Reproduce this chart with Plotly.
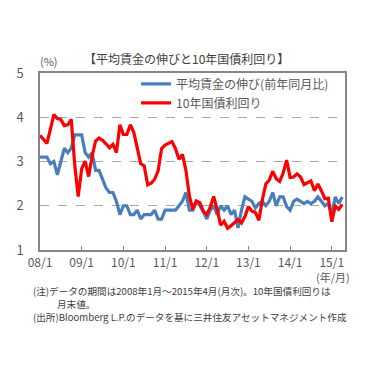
import plotly.graph_objects as go

months = list(range(88))  # 2008/1 .. 2015/4
wage_growth = [
    3.1, 3.1, 3.1, 2.95, 3.0, 2.7, 3.0, 3.3, 3.2, 3.3, 3.6, 3.6,
    3.6, 3.2, 3.1, 3.2, 2.8, 2.8, 2.6, 2.4, 2.3, 2.3, 2.1, 1.8,
    2.0, 2.0, 1.8, 1.8, 1.9, 1.7, 1.8, 1.8, 1.8, 1.9, 1.7, 1.7,
    1.9, 1.9, 1.9, 1.9, 2.0, 2.1, 2.3, 1.9, 1.9, 2.1, 2.0, 1.87,
    1.7, 1.9, 2.0, 1.8, 2.0, 1.9, 2.0, 1.8, 1.9, 1.5, 1.9, 2.2,
    2.15, 2.1, 1.95, 2.05, 2.1, 2.0, 2.1, 2.3, 2.0, 2.2, 2.2, 1.98,
    1.9, 2.1, 2.15, 2.1, 2.05, 2.1, 2.05, 2.1, 2.2, 2.1, 2.0, 2.05,
    1.8, 2.2, 2.05, 2.2,
]
bond_yield = [
    3.59, 3.51, 3.41, 3.73, 4.06, 3.97, 3.95, 3.81, 3.83, 3.95, 2.92, 2.21,
    2.84, 3.01, 2.66, 3.12, 3.46, 3.53, 3.48, 3.40, 3.31, 3.39, 3.20, 3.83,
    3.61, 3.61, 3.83, 3.66, 3.29, 2.95, 2.90, 2.47, 2.51, 2.60, 2.79, 3.29,
    3.37, 3.42, 3.45, 3.29, 3.05, 3.16, 2.80, 2.22, 1.92, 2.11, 2.07, 1.88,
    1.80, 1.97, 2.21, 1.91, 1.56, 1.65, 1.49, 1.55, 1.63, 1.69, 1.61, 1.76,
    1.98, 1.88, 1.85, 1.67, 2.13, 2.49, 2.58, 2.78, 2.61, 2.55, 2.74, 3.03,
    2.64, 2.65, 2.72, 2.65, 2.48, 2.53, 2.56, 2.34, 2.49, 2.34, 2.16, 2.17,
    1.64, 1.99, 1.92, 2.03,
]
tick_vals = [0, 12, 24, 36, 48, 60, 72, 84]
tick_text = ["08/1", "09/1", "10/1", "11/1", "12/1", "13/1", "14/1", "15/1"]
y_ticks = [1, 2, 3, 4, 5]

FONT = "Noto Sans CJK JP"
GRAY = "#595959"
DARK = "#404040"

fig = go.Figure()
fig.add_trace(go.Scatter(x=months, y=wage_growth, mode="lines",
                         name="平均賃金の伸び(前年同月比)",
                         line=dict(color="#4A7EBB", width=3.2)))
fig.add_trace(go.Scatter(x=months, y=bond_yield, mode="lines",
                         name="10年国債利回り",
                         line=dict(color="#FF0000", width=3.2)))

fig.update_layout(
    width=386, height=374,
    margin=dict(l=40, r=41, t=73, b=124, autoexpand=False),
    paper_bgcolor="white", plot_bgcolor="white",
    font=dict(family=FONT, color=GRAY, size=12),
    showlegend=True,
    legend=dict(x=0.315, y=1.02, xanchor="left", yanchor="top",
                bgcolor="rgba(0,0,0,0)", borderwidth=0,
                font=dict(size=12, color=GRAY, family=FONT),
                itemwidth=30, tracegroupgap=0),
    xaxis=dict(range=[0, 87.8], tickmode="array", tickvals=tick_vals,
               ticktext=tick_text, ticks="inside", ticklen=4, tickcolor="#868686",
               showgrid=False, zeroline=False, showline=True, linecolor="#868686",
               linewidth=1.5, mirror=True, tickfont=dict(size=12, color=GRAY),
               ticklabelstandoff=1, automargin=False),
    yaxis=dict(range=[1, 5], tickvals=y_ticks, showgrid=True,
               gridcolor="#A6A6A6", griddash="dash", gridwidth=1,
               zeroline=False, showline=True, linecolor="#868686", linewidth=1.5,
               mirror=True, ticks="", tickfont=dict(size=13, color=GRAY),
               ticklabelstandoff=12, automargin=False),
)

def note(text, x, yshift, size=9.6, color=DARK, xanchor="left"):
    fig.add_annotation(text=text, xref="paper", yref="paper", x=x, y=0,
                       yshift=yshift, xanchor=xanchor, yanchor="middle",
                       showarrow=False, font=dict(size=size, color=color))

fig.add_annotation(text="【平均賃金の伸びと10年国債利回り】", xref="paper", yref="paper",
                   x=0.479, y=1.0, yshift=15, xanchor="center", yanchor="middle",
                   showarrow=False, font=dict(size=12, color=DARK))
fig.add_annotation(text="(%)", xref="paper", yref="paper", x=-0.007, y=1.0, yshift=12,
                   xanchor="left", yanchor="middle", showarrow=False,
                   font=dict(size=11, color=GRAY))
note("(年/月)", 0.962, -27, size=11, color=GRAY, xanchor="center")
note("(注)データの期間は2008年1月～2015年4月(月次)。10年国債利回りは", -0.029, -41)
note("月末値。", 0.048, -54)
note("(出所)Bloomberg L.P.のデータを基に三井住友アセットマネジメント作成", -0.029, -67)

fig.write_html("out.html", config={"displayModeBar": False},
               post_script="document.body.style.margin='0';document.body.style.padding='0';")
